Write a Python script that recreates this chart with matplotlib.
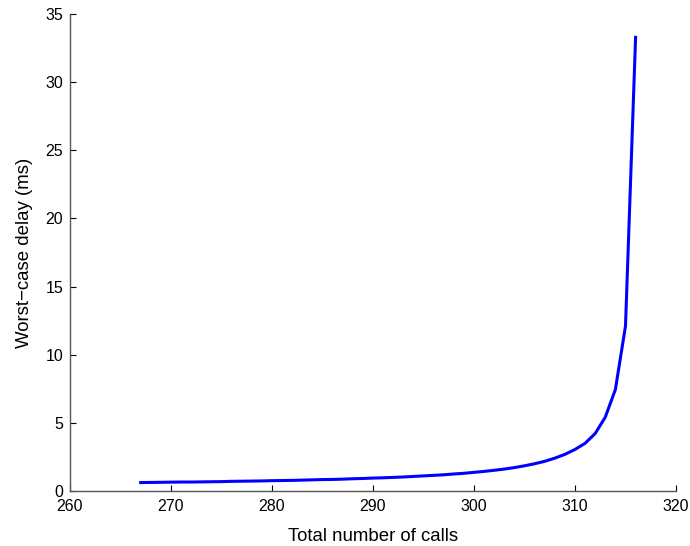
import matplotlib
matplotlib.use("Agg")
import matplotlib.pyplot as plt

# Total number of calls vs worst-case delay (ms)
calls = list(range(267, 317))
delay_ms = [0.62, 0.63, 0.64, 0.65, 0.66, 0.66, 0.67, 0.68, 0.69, 0.71,
            0.72, 0.73, 0.74, 0.76, 0.77, 0.78, 0.80, 0.82, 0.84, 0.85,
            0.87, 0.90, 0.92, 0.95, 0.97, 1.00, 1.03, 1.07, 1.11, 1.15,
            1.19, 1.25, 1.30, 1.37, 1.44, 1.52, 1.61, 1.72, 1.85, 2.00,
            2.18, 2.41, 2.69, 3.05, 3.50, 4.22, 5.42, 7.45, 12.10, 33.29]

x_ticks = [260, 270, 280, 290, 300, 310, 320]
y_ticks = [0, 5, 10, 15, 20, 25, 30, 35]

plt.rcParams['font.family'] = ['Liberation Sans', 'DejaVu Sans']

fig = plt.figure(figsize=(6.9, 5.46), dpi=100)
ax = fig.add_axes([0.1014, 0.1007, 0.8783, 0.8736])

ax.plot(calls, delay_ms, color='#0000ff', linewidth=2.2)

ax.set_xlim(260, 320)
ax.set_ylim(0, 35)
ax.set_xticks(x_ticks)
ax.set_yticks(y_ticks)
ax.tick_params(direction='in', length=4, width=0.8, labelsize=11.5, colors='black')
ax.tick_params(axis='x', pad=5.5)
ax.tick_params(axis='y', pad=5)

for side in ['top', 'right']:
    ax.spines[side].set_visible(False)
for side in ['left', 'bottom']:
    ax.spines[side].set_color('#555555')
    ax.spines[side].set_linewidth(1.0)

ax.set_xlabel('Total number of calls', fontsize=13.4, labelpad=10)
ax.set_ylabel('Worst\u2212case delay (ms)', fontsize=13.4, labelpad=9)

fig.savefig('out.png', dpi=100)
